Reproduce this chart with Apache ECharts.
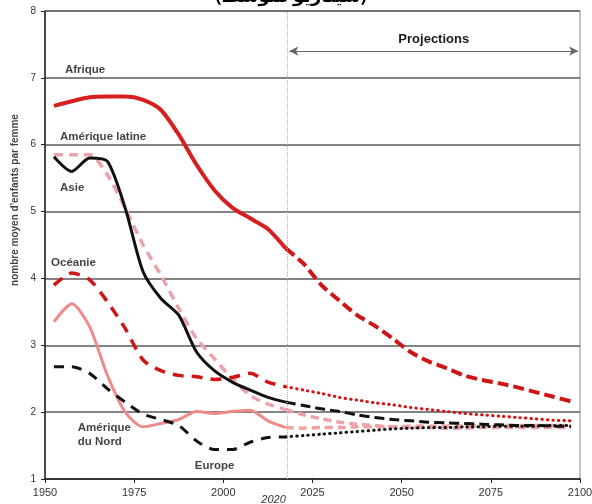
<!DOCTYPE html>
<html><head><meta charset="utf-8">
<script src="https://cdn.jsdelivr.net/npm/echarts@6/dist/echarts.min.js"></script>
<style>html,body{margin:0;padding:0;background:#fff}#c{width:592px;height:504px}</style>
</head><body><div id="c"></div>
<script>
var histYears = [1952.5,1957.5,1962.5,1967.5,1972.5,1977.5,1982.5,1987.5,1992.5,1997.5,2002.5,2007.5,2012.5,2017.5];
var projYears = [2017.5,2022.5,2027.5,2032.5,2037.5,2042.5,2047.5,2052.5,2057.5,2062.5,2067.5,2072.5,2077.5,2082.5,2087.5,2092.5,2097.5];

var afriqueHist = [6.58,6.65,6.71,6.72,6.72,6.67,6.52,6.15,5.70,5.32,5.06,4.90,4.74,4.45];
var afriqueProj = [4.45,4.22,3.90,3.67,3.45,3.29,3.10,2.90,2.76,2.66,2.55,2.48,2.43,2.37,2.30,2.23,2.16];
var latineHist = [5.85,5.85,5.85,5.55,5.05,4.50,4.05,3.55,3.10,2.80,2.50,2.25,2.12,2.04];
var latineProj = [2.04,1.96,1.90,1.85,1.82,1.80,1.78,1.77,1.77,1.76,1.76,1.77,1.77,1.77,1.77,1.77,1.77];
var asieHist = [5.82,5.60,5.80,5.75,5.05,4.10,3.70,3.45,2.90,2.62,2.45,2.33,2.22,2.15];
var asieProj = [2.15,2.10,2.05,2.01,1.96,1.92,1.89,1.87,1.85,1.84,1.83,1.82,1.81,1.80,1.80,1.79,1.79];
var oceanieHist = [3.90,4.08,3.98,3.65,3.25,2.78,2.62,2.55,2.53,2.49,2.52,2.58,2.45,2.38];
var oceanieProj = [2.38,2.33,2.28,2.22,2.18,2.14,2.11,2.07,2.04,2.01,1.98,1.96,1.94,1.92,1.90,1.88,1.87];
var nordHist = [3.35,3.62,3.28,2.55,2.00,1.78,1.83,1.89,2.01,1.98,2.01,2.03,1.87,1.77];
var nordProj = [1.77,1.76,1.77,1.77,1.78,1.78,1.78,1.79,1.79,1.79,1.79,1.80,1.80,1.80,1.80,1.80,1.80];
var europeHist = [2.68,2.68,2.58,2.35,2.15,1.97,1.89,1.80,1.57,1.44,1.44,1.55,1.62,1.63];
var europeProj = [1.63,1.65,1.67,1.69,1.71,1.73,1.75,1.76,1.77,1.77,1.78,1.78,1.79,1.79,1.79,1.80,1.80];

var regionLabels = ['Afrique','Amérique latine','Asie','Océanie','Amérique\ndu Nord','Europe'];
var labelX = [1955.6,1954.2,1954.2,1951.7,1959.2,1992];
var labelY = [7.12,6.12,5.36,4.24,1.66,1.19];

var xTicks = [1950,1975,2000,2025,2050,2075,2100];
var yTicks = [1,2,3,4,5,6,7,8];
var titleText = '(سيناريو متوسط)';
var projText = 'Projections';
var yName = "nombre moyen d'enfants par femme";
var cutYear = 2018;
var cutLabel = '2020';

function pairs(xs, ys){ return xs.map(function(x,i){ return [x, ys[i]]; }); }

function lineSeries(name, xs, ys, color, width, type, dash){
  return {
    name: name, type: 'line', data: pairs(xs, ys), showSymbol: false, symbol: 'none',
    smooth: 0.25, z: 3,
    lineStyle: { color: color, width: width, type: dash || type, cap: type === 'dotted' ? 'round' : 'butt', join: 'round' }
  };
}

var RED = '#d81f1f', DRED = '#cf1515', PINK = '#eba2aa', NPINK = '#ee8a8a', BLK = '#111';

var series = [
  lineSeries('Afrique', histYears, afriqueHist, RED, 4, 'solid'),
  lineSeries('Afrique proj', projYears, afriqueProj, DRED, 4, 'dashed', [11,5]),
  lineSeries('Amérique latine', histYears, latineHist, PINK, 3.5, 'dashed', [9,6]),
  lineSeries('Amérique latine proj', projYears, latineProj, PINK, 3.5, 'dashed', [8,5]),
  lineSeries('Océanie', histYears, oceanieHist, DRED, 3.5, 'dashed', [11,8]),
  lineSeries('Océanie proj', projYears, oceanieProj, DRED, 3, 'dotted', [0.5,5]),
  lineSeries('Amérique du Nord', histYears, nordHist, NPINK, 3, 'solid'),
  lineSeries('Amérique du Nord proj', projYears, nordProj, '#f2a0a0', 3.5, 'dashed', [8,5]),
  lineSeries('Europe', histYears, europeHist, BLK, 3, 'dashed', [10,8]),
  lineSeries('Europe proj', projYears, europeProj, BLK, 3, 'dotted', [0.5,5]),
  lineSeries('Asie', histYears, asieHist, BLK, 3, 'solid'),
  lineSeries('Asie proj', projYears, asieProj, BLK, 3, 'dashed', [10,5])
];

series.push({
  type: 'line', data: [], silent: true,
  markLine: {
    silent: true, symbol: ['none','none'], animation: false,
    lineStyle: { color: '#9fb4cc', type: 'dotted', width: 1 },
    label: { show: true, position: 'start', formatter: cutLabel, fontStyle: 'italic', fontSize: 11,
             color: '#333', fontFamily: 'Liberation Sans, Arial', offset: [-14, 10] },
    data: [[{ coord: [cutYear, 1] }, { coord: [cutYear, 8] }]]
  }
});
series.push({
  type: 'line', data: [], silent: true,
  markLine: {
    silent: true, animation: false,
    symbol: ['arrow','arrow'], symbolSize: [7, 9],
    lineStyle: { color: '#666', type: 'solid', width: 1 },
    label: { show: true, position: 'middle', formatter: projText, fontWeight: 'bold', fontSize: 13,
             color: '#1a1a1a', backgroundColor: '#fff', padding: [0, 6], fontFamily: 'Liberation Sans, Arial' },
    data: [[{ coord: [cutYear + 0.5, 7.4] }, { coord: [2099.5, 7.4] }]]
  }
});
series.push({
  type: 'scatter', symbolSize: 0, z: 5, silent: true,
  data: labelX.map(function(x,i){ return { value: [x, labelY[i]], name: regionLabels[i] }; }),
  label: { show: true, position: 'right', distance: 0, formatter: '{b}', fontWeight: 'bold',
           fontSize: 11.5, color: '#111', fontFamily: 'Liberation Sans, Arial', lineHeight: 14, align: 'left' }
});

var chart = echarts.init(document.getElementById('c'), null, { renderer: 'canvas' });
chart.setOption({
  animation: false,
  backgroundColor: '#fff',
  grid: { left: 45, right: 12, top: 11, bottom: 25, show: true, borderColor: '#888', borderWidth: 1,
          containLabel: false, outerBoundsMode: 'none' },
  graphic: [
    { type: 'text', x: 291, y: -12, style: { text: titleText, fontSize: 18, fontWeight: 'bold',
      fill: '#000', fontFamily: 'Noto Sans, DejaVu Sans', align: 'center', verticalAlign: 'top' } },
    { type: 'text', x: 15, y: 200, rotation: Math.PI / 2,
      style: { text: yName, fontSize: 10, fontWeight: 'bold', fill: '#444', fontFamily: 'Liberation Sans, Arial',
               align: 'center', verticalAlign: 'middle' } }
  ],
  xAxis: {
    type: 'value', min: 1950, max: 2100, interval: 25,
    axisLine: { show: true, lineStyle: { color: '#222', width: 1.5 } },
    axisTick: { show: true, length: 4, lineStyle: { color: '#222' } },
    axisLabel: { color: '#333', fontSize: 11, margin: 8, fontFamily: 'Liberation Sans, Arial',
                 formatter: function(v){ return xTicks.indexOf(v) >= 0 ? String(v) : ''; } },
    splitLine: { show: false }
  },
  yAxis: {
    type: 'value', min: 1, max: 8, interval: 1,
    axisLine: { show: true, lineStyle: { color: '#222', width: 1.5 } },
    axisTick: { show: true, length: 4, lineStyle: { color: '#222' } },
    axisLabel: { color: '#333', fontSize: 10, margin: 9, fontFamily: 'Liberation Sans, Arial',
                 formatter: function(v){ return yTicks.indexOf(v) >= 0 ? String(v) : ''; } },
    splitLine: { show: true, lineStyle: { color: '#5a5a5a', width: 1.5 } }
  },
  series: series
});
</script>
</body></html>
